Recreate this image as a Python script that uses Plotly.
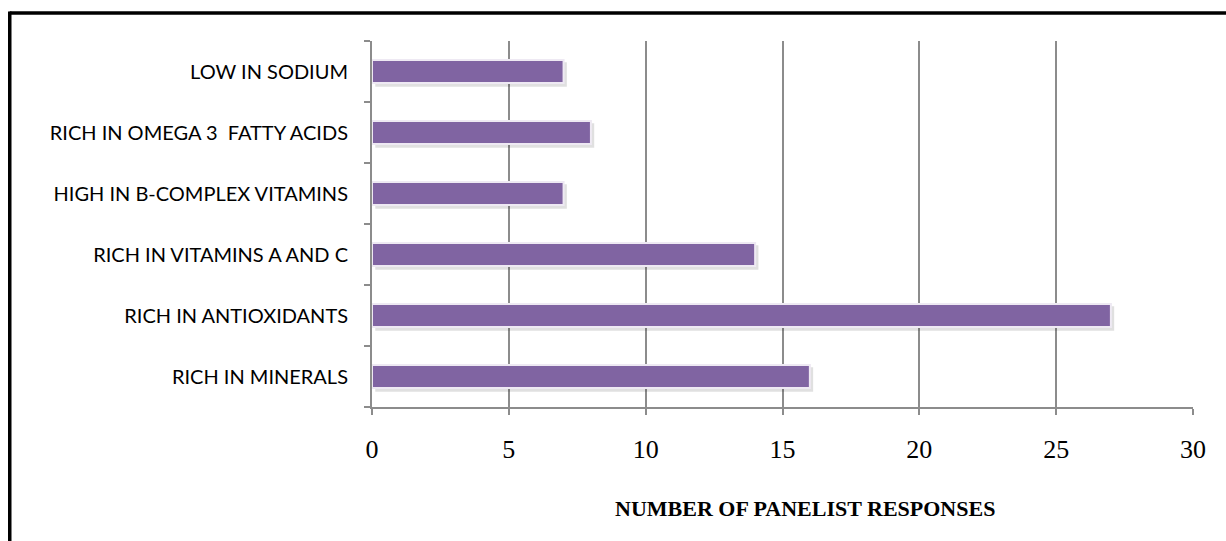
import plotly.graph_objects as go

categories = ["RICH IN MINERALS", "RICH IN ANTIOXIDANTS", "RICH IN VITAMINS A AND C",
              "HIGH IN B-COMPLEX VITAMINS", "RICH IN OMEGA 3  FATTY ACIDS", "LOW IN SODIUM"]
responses = [16, 27, 14, 7, 8, 7]
x_ticks = [0, 5, 10, 15, 20, 25, 30]
x_title = "NUMBER OF PANELIST RESPONSES"

W, H = 1226, 541
L, R, T, B = 372, 33, 41, 134
pw, ph = W - L - R, H - T - B

def px(x):
    return (x - L) / pw

def py(y):
    return (H - B - y) / ph

fig = go.Figure()
# soft drop shadow (same data), slightly right and below
fig.add_trace(go.Bar(
    y=categories, x=responses, orientation="h", base=0.12,
    marker=dict(color="rgba(0,0,0,0.12)", line=dict(width=0)),
    offset=-0.25, width=0.40, hoverinfo="skip", showlegend=False))
fig.add_trace(go.Bar(
    y=categories, x=responses, orientation="h",
    marker=dict(color="#8064A2", line=dict(color="#EEE9F3", width=2)),
    offset=-0.19, width=0.38, showlegend=False))

fig.update_layout(
    width=W, height=H,
    margin=dict(l=L, r=R, t=T, b=B),
    paper_bgcolor="white", plot_bgcolor="white",
    barmode="overlay",
    xaxis=dict(range=[0, 30], tickvals=x_ticks, ticktext=[str(v) for v in x_ticks],
               showgrid=True, gridcolor="#8C8C8C", gridwidth=2,
               showline=True, linecolor="#8C8C8C", linewidth=2,
               ticks="outside", ticklen=6, tickcolor="#8C8C8C", tickwidth=2,
               ticklabelstandoff=12,
               tickfont=dict(family="Liberation Serif", size=26, color="black"),
               zeroline=False, fixedrange=True),
    yaxis=dict(showgrid=False, showline=True, linecolor="#8C8C8C", linewidth=2,
               ticks="outside", ticklen=6, tickcolor="#8C8C8C", tickwidth=2,
               tickson="boundaries", ticklabelstandoff=18,
               tickfont=dict(family="Lato", size=20, color="black"),
               zeroline=False, fixedrange=True),
    annotations=[dict(text="<b>" + x_title + "</b>", xref="paper", yref="paper",
                      x=px(805), y=py(508), xanchor="center", yanchor="middle",
                      showarrow=False,
                      font=dict(family="Liberation Serif", size=22, color="black"))],
    shapes=[dict(type="line", xref="paper", yref="paper",
                 x0=px(9.75), x1=px(1240), y0=py(13), y1=py(13),
                 line=dict(color="black", width=3.5)),
            dict(type="line", xref="paper", yref="paper",
                 x0=px(9.75), x1=px(9.75), y0=py(11.5), y1=py(560),
                 line=dict(color="black", width=3.5))],
)

fig.write_html("out.html")
